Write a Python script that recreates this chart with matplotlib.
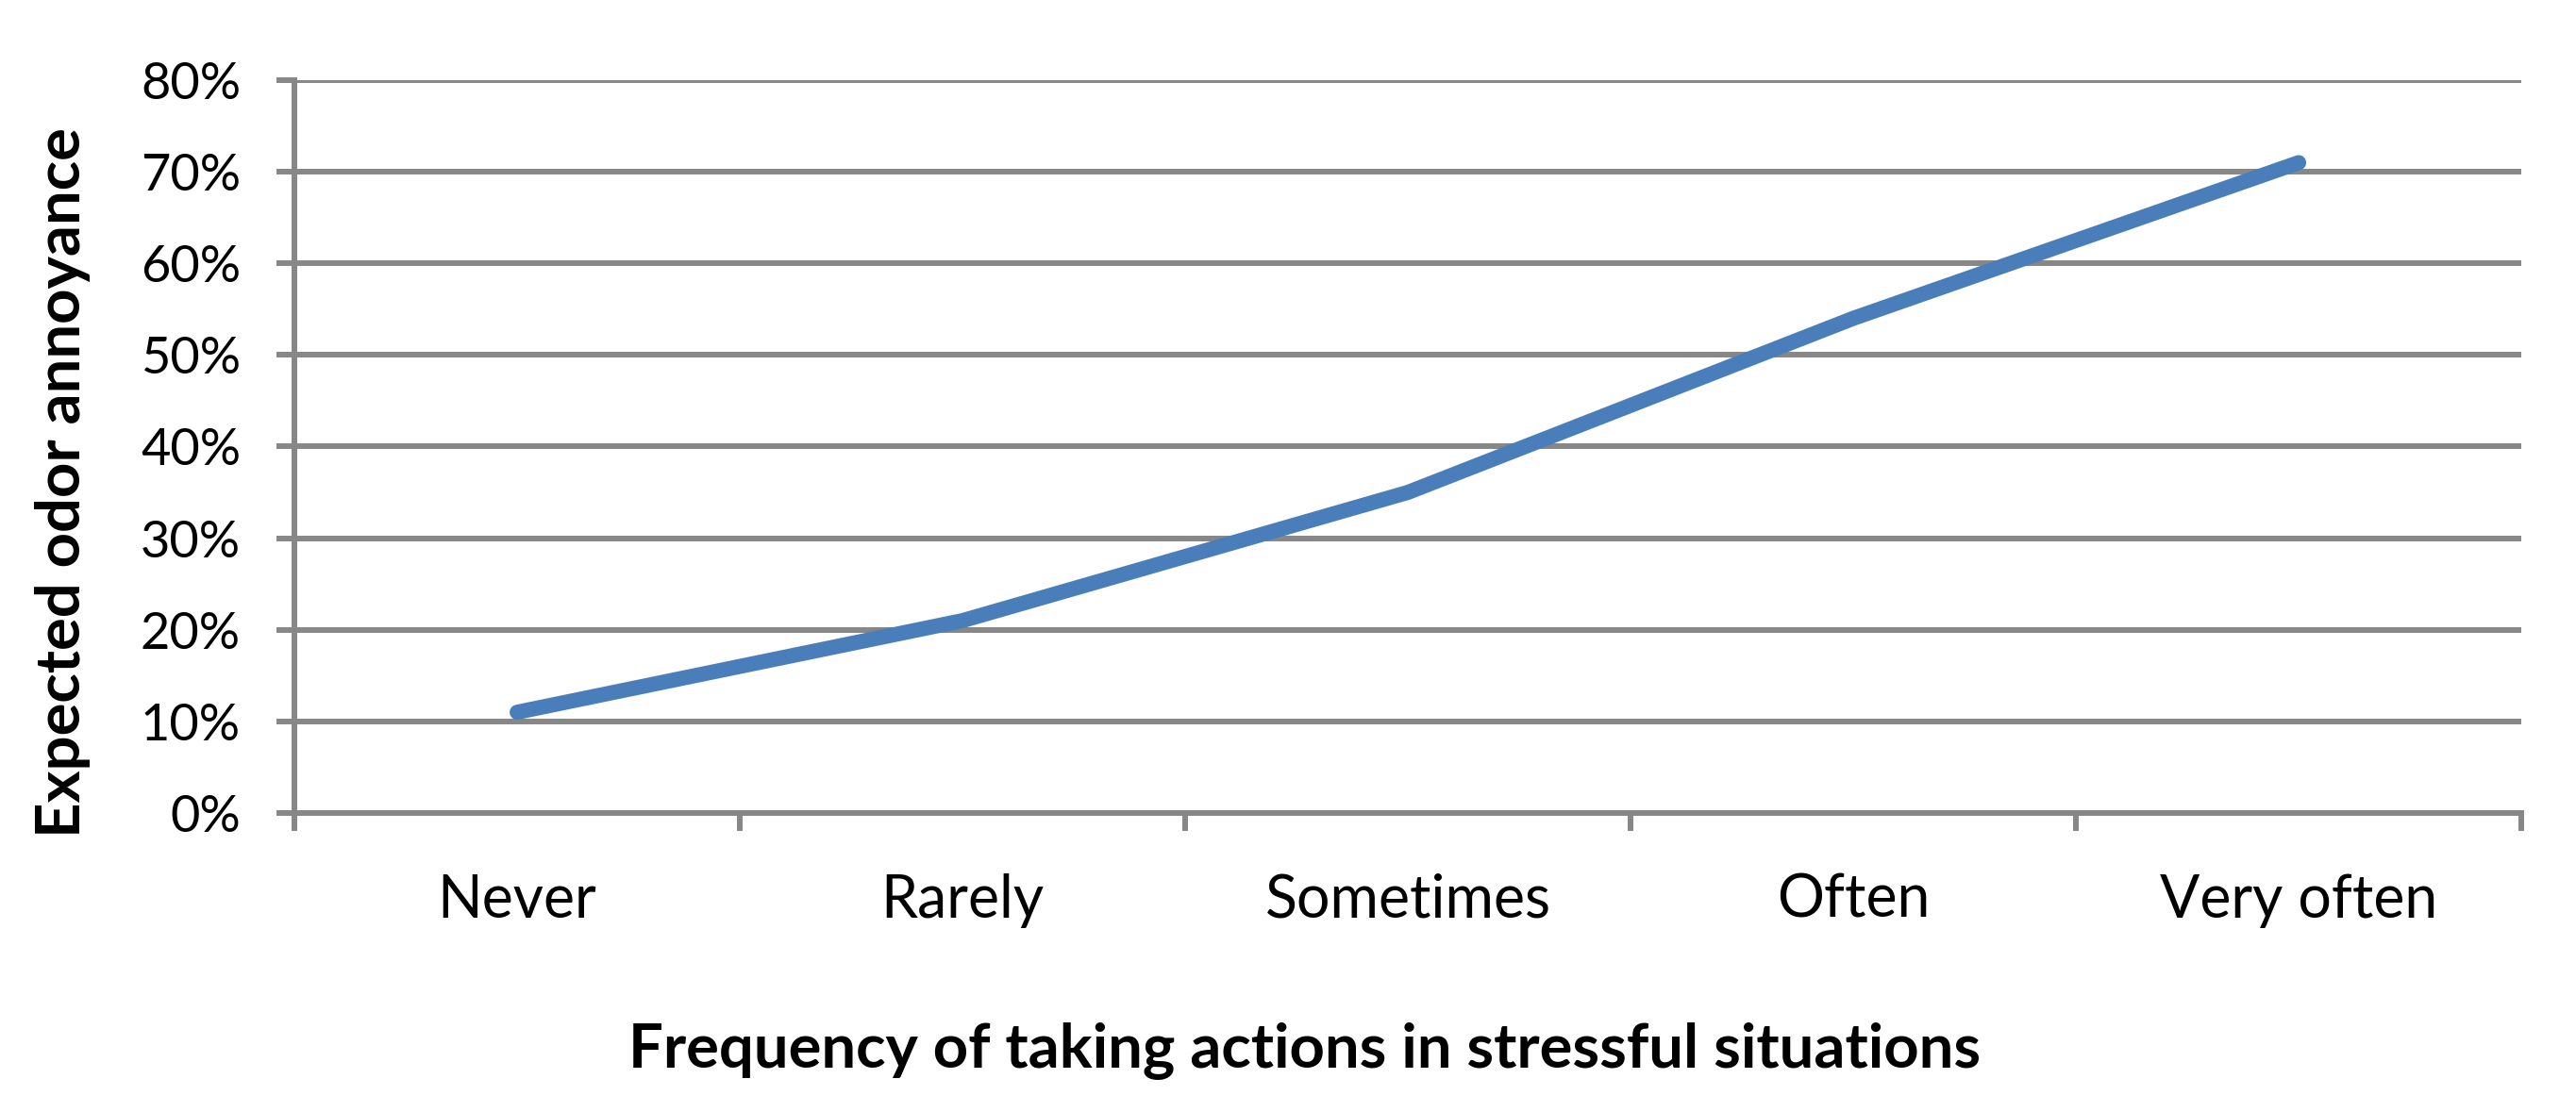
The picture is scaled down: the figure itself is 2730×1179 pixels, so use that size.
import matplotlib
matplotlib.use("Agg")
import matplotlib.pyplot as plt
from matplotlib.ticker import FixedLocator, PercentFormatter

categories = ["Never", "Rarely", "Sometimes", "Often", "Very often"]
annoyance = [11, 21, 35, 54, 71]
y_ticks = [0, 10, 20, 30, 40, 50, 60, 70, 80]

grey = "#878787"
blue = "#4A7EBB"

plt.rcParams['font.family'] = ['Lato', 'DejaVu Sans']

fig = plt.figure(figsize=(27.3, 11.79), dpi=100)
ax = fig.add_axes([0.1143, 0.2689, 0.8645, 0.659])

x = list(range(len(categories)))
ax.plot(x, annoyance, color=blue, linewidth=11.5, solid_capstyle='round',
        solid_joinstyle='round', zorder=3)

ax.set_xlim(-0.5, len(categories) - 0.5)
ax.set_ylim(0, 80)
ax.set_yticks(y_ticks)
ax.yaxis.set_major_formatter(PercentFormatter(decimals=0))
ax.yaxis.grid(True, color=grey, linewidth=4.3)
ax.set_axisbelow(True)

# category boundaries get the ticks, labels sit at the centres
ax.xaxis.set_major_locator(FixedLocator([i - 0.5 for i in range(len(categories) + 1)]))
ax.xaxis.set_major_formatter(plt.NullFormatter())
ax.xaxis.set_minor_locator(FixedLocator(x))
ax.set_xticklabels(categories, minor=True)
ax.tick_params(axis='x', which='minor', length=0, pad=46, labelsize=45)
ax.tick_params(axis='x', which='major', length=14, width=4.3, color=grey)
ax.tick_params(axis='y', length=14, width=4.3, color=grey, labelsize=39, pad=27)

for side in ['top', 'right']:
    ax.spines[side].set_visible(False)
for side in ['left', 'bottom']:
    ax.spines[side].set_color(grey)
    ax.spines[side].set_linewidth(4.3)

fig.text(0.0242, 0.5665, "Expected odor annoyance", rotation=90, ha='center',
         va='center', fontsize=47, fontweight='bold')
fig.text(0.5066, 0.055, "Frequency of taking actions in stressful situations",
         ha='center', va='center', fontsize=47, fontweight='bold')

fig.savefig("out.png", dpi=100)
